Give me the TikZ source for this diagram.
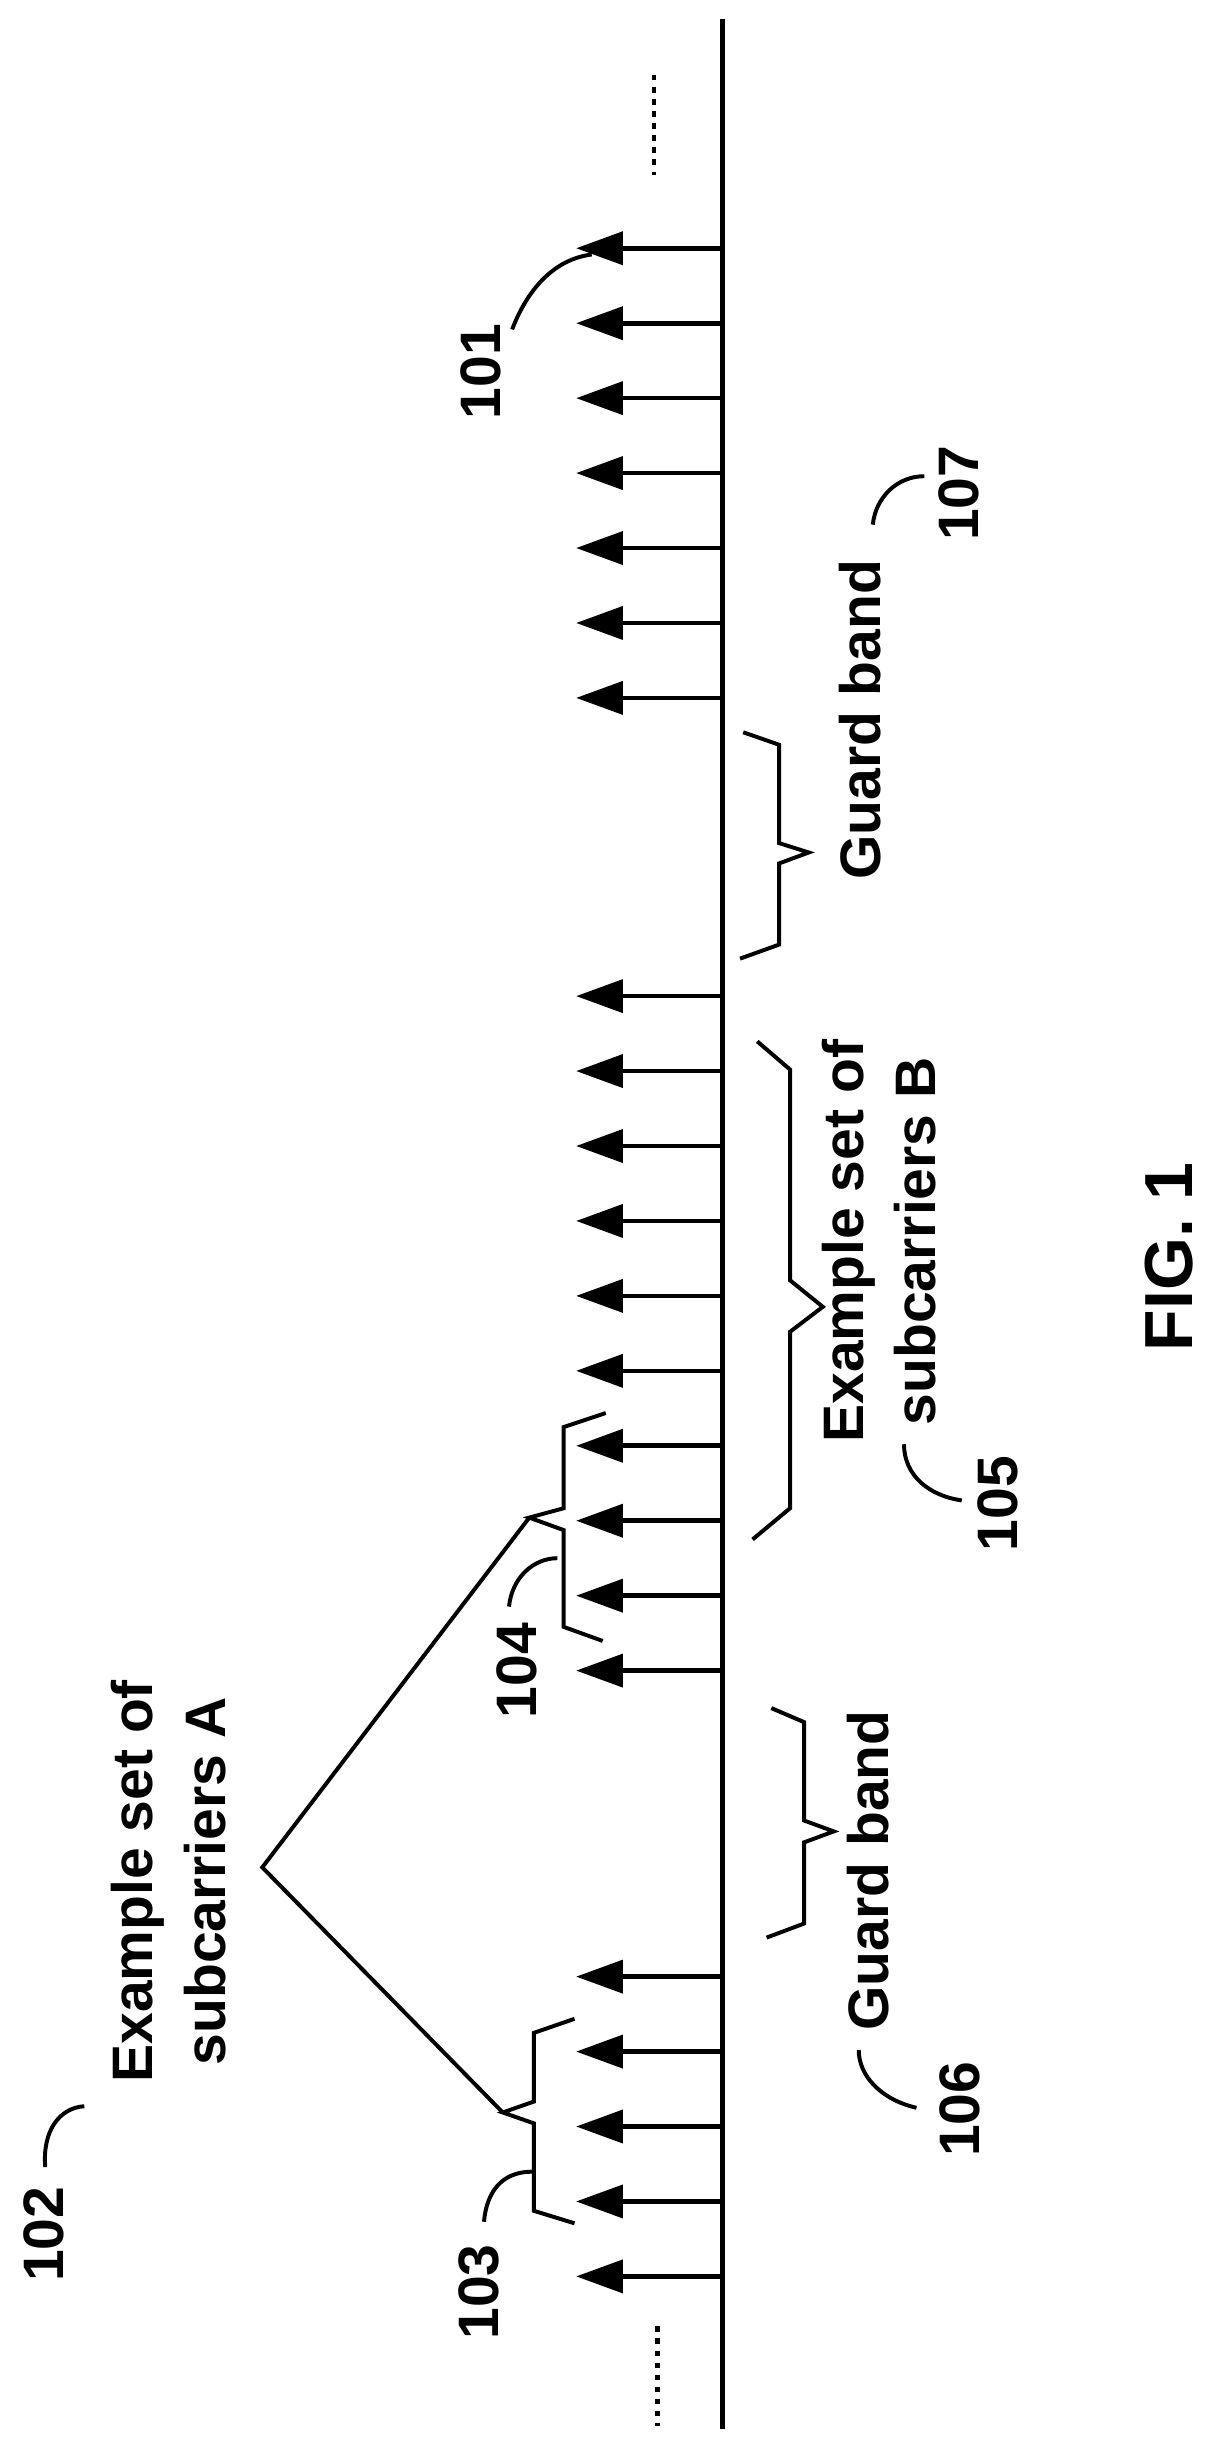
\documentclass[tikz,border=0pt]{standalone}
\usepackage{fontspec}
\setmainfont{Liberation Sans}
\usetikzlibrary{arrows.meta}
\begin{document}
\begin{tikzpicture}[x=0.05cm,y=-0.05cm,
  lbl/.style={font=\fontsize{52}{66}\selectfont\bfseries,rotate=90,align=center,inner sep=0pt},
  sc/.style={line width=4.2pt,-{Triangle[length=1.5cm,width=1.05cm]}},
  br/.style={line width=3.6pt,line join=miter},
  ld/.style={line width=3.6pt}]
\useasboundingbox (0,0) rectangle (780,1566);
\coordinate (axT) at (463,12);
\coordinate (axB) at (463,1556);
\draw[line width=4.5pt] (axT) -- (axB);
% dashes
\coordinate (d1a) at (419,48); \coordinate (d1b) at (419,112);
\coordinate (d2a) at (421,1490); \coordinate (d2b) at (421,1554);
\draw[line width=4pt,dash pattern=on 5pt off 6pt] (d1a) -- (d1b);
\draw[line width=4pt,dash pattern=on 5pt off 6pt] (d2a) -- (d2b);
% subcarriers
\foreach \y [count=\i] in {159,207,255,303,351,399,447,638,686,734,782,830,878,926,974,1022,1070,1266,1314,1362,1410,1458}{
  \coordinate (s\i) at (463,\y);
  \coordinate (t\i) at (369,\y);
  \draw[sc] (s\i) -- (t\i);
}
% braces
\draw[br] (476,469) -- (499,477) -- (499,540) -- (518,546) -- (499,553) -- (499,605) -- (474,614);
\draw[br] (485,667) -- (506,685) -- (506,820) -- (527,837) -- (506,853) -- (506,966) -- (482,986);
\draw[br] (388,905) -- (361,914) -- (361,966) -- (339,972) -- (361,980) -- (361,1042) -- (386,1051);
\draw[br] (494,1094) -- (515,1103) -- (515,1166) -- (534,1173) -- (515,1180) -- (515,1232) -- (491,1241);
\draw[br] (368,1293) -- (342,1302) -- (342,1346) -- (322,1353) -- (342,1360) -- (342,1416) -- (368,1424);
% V line
\coordinate (tipA1) at (339,972);
\coordinate (apex) at (168,1196);
\coordinate (tipA2) at (322,1353);
\draw[ld,line join=miter] (tipA1) -- (apex) -- (tipA2);
% labels
\node[lbl] (lA) at (108,1205) {Example set of\\subcarriers A};
\node[lbl] (lB) at (563,795) {Example set of\\subcarriers B};
\node[lbl] (g1) at (551,461) {Guard band};
\node[lbl] (g2) at (556,1198) {Guard band};
\node[lbl] (n101) at (308,238) {101};
\node[lbl] (n102) at (28,1431) {102};
\node[lbl] (n103) at (307,1468) {103};
\node[lbl] (n104) at (331,1070) {104};
\node[lbl] (n105) at (639,963) {105};
\node[lbl] (n106) at (615,1351) {106};
\node[lbl] (n107) at (614,316) {107};
\node[lbl,font=\fontsize{62}{70}\selectfont\bfseries] (fig) at (749,805) {FIG. 1};
% leaders
\draw[ld] (328,211) .. controls (338,185) and (355,166) .. (379,163);
\draw[ld] (29,1388) .. controls (27,1365) and (38,1350) .. (54,1349);
\draw[ld] (310,1423) .. controls (312,1400) and (325,1390) .. (343,1391);
\draw[ld] (326,1029) .. controls (328,1010) and (342,998) .. (357,998);
\draw[ld] (579,925) .. controls (579,945) and (595,958) .. (616,961);
\draw[ld] (550,1313) .. controls (550,1330) and (565,1345) .. (587,1350);
\draw[ld] (559,336) .. controls (561,318) and (575,305) .. (592,305);
\end{tikzpicture}
\end{document}
